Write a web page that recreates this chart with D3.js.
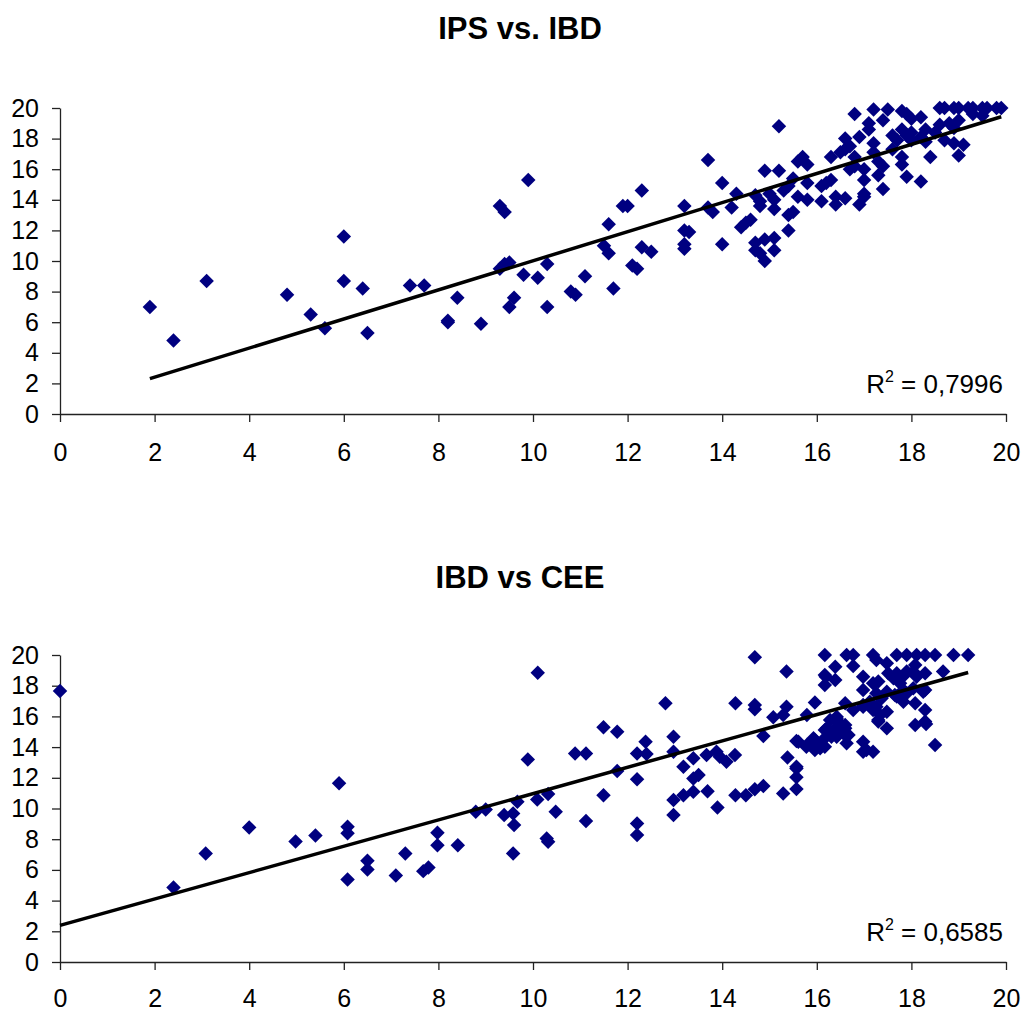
<!DOCTYPE html>
<html>
<head>
<meta charset="utf-8">
<script src="https://cdn.jsdelivr.net/npm/d3@7"></script>
<style>
  body { margin: 0; background: #fff; }
  svg { display: block; font-family: "Liberation Sans", Arial, sans-serif; }
</style>
</head>
<body>
<svg id="chart" width="1023" height="1010"></svg>
<script>
const titles = ["IPS vs. IBD", "IBD vs CEE"]
const rSquared = ["R\u00b2 = 0,7996", "R\u00b2 = 0,6585"]
const axisTicks = [0, 2, 4, 6, 8, 10, 12, 14, 16, 18, 20]

// IPS vs. IBD
const ipsX = [1.9, 2.4, 3.1, 4.8, 5.3, 5.6, 6.0, 6.0, 6.4, 6.5, 7.4, 7.7, 8.2, 8.2, 8.4, 8.9, 9.3, 9.4, 9.3, 9.4,
  9.5, 9.5, 9.6, 9.9, 9.8, 10.1, 10.3, 10.3, 10.8, 10.9, 11.1, 11.6, 11.5, 11.6, 11.7, 11.9, 12.0, 12.3, 12.1, 12.2,
  12.3, 12.5, 13.2, 13.2, 13.3, 13.2, 13.2, 13.7, 13.7, 13.8, 14.0, 14.0, 14.3, 14.2, 14.4, 14.5, 14.6, 14.7, 14.8, 14.8,
  14.9, 15.2, 15.2, 14.7, 14.7, 14.8, 14.9, 14.9, 15.1, 15.1, 15.0, 15.1, 15.1, 15.3, 15.4, 15.4, 15.4, 15.5, 15.5, 15.6,
  15.7, 15.8, 15.6, 15.8, 15.8, 16.1, 16.1, 16.2, 16.3, 16.3, 16.4, 16.4, 16.6, 16.5, 16.6, 16.6, 16.7, 16.8, 16.8, 16.7,
  17.0, 17.0, 17.0, 16.9, 17.0, 16.8, 16.9, 17.1, 17.1, 17.2, 17.5, 17.4, 17.2, 17.2, 17.3, 17.4, 17.3, 17.4, 17.6, 17.7,
  17.8, 17.8, 17.8, 17.8, 17.9, 18.0, 18.2, 17.9, 18.2, 18.0, 18.2, 18.3, 18.5, 18.4, 18.6, 18.7, 18.9, 19.0, 19.2, 19.3,
  19.5, 19.6, 19.8, 19.9, 18.6, 18.8, 18.9, 19.0, 18.7, 18.9, 19.1, 19.0, 19.3, 19.5, 18.0, 17.9, 17.6, 18.3]
const ibdY = [7.0, 4.8, 8.7, 7.8, 6.5, 5.6, 11.6, 8.7, 8.2, 5.3, 8.4, 8.4, 6.1, 6.0, 7.6, 5.9, 13.6, 13.2, 9.5, 9.8,
  9.9, 7.0, 7.6, 15.3, 9.1, 8.9, 9.8, 7.0, 8.0, 7.8, 9.0, 12.4, 11.0, 10.5, 8.2, 13.6, 13.6, 14.6, 9.7, 9.5,
  10.9, 10.6, 13.6, 12.0, 11.9, 11.1, 10.8, 16.6, 13.5, 13.2, 15.1, 11.1, 14.4, 13.5, 12.2, 12.5, 12.7, 14.3, 13.9, 13.6,
  15.9, 15.9, 18.8, 11.2, 10.7, 10.5, 11.4, 10.0, 11.5, 10.7, 14.4, 14.0, 13.4, 14.6, 14.9, 12.0, 13.0, 13.2, 15.4, 16.5,
  16.8, 16.3, 14.2, 14.0, 15.1, 13.9, 14.9, 15.1, 15.3, 16.8, 13.7, 14.2, 14.1, 17.1, 17.3, 18.0, 17.5, 16.8, 16.2, 16.0,
  16.0, 15.3, 14.2, 13.7, 14.4, 19.6, 18.1, 19.0, 18.6, 19.9, 19.9, 19.2, 17.7, 17.1, 16.5, 16.2, 15.6, 14.7, 17.3, 17.9,
  18.6, 16.8, 16.3, 19.8, 19.6, 19.3, 19.4, 15.5, 15.2, 18.4, 18.1, 18.6, 18.4, 16.8, 20, 20, 20, 20, 20, 20,
  20, 20, 20, 20, 18.9, 19.0, 18.7, 19.2, 17.9, 17.7, 17.6, 16.9, 19.6, 19.5, 17.9, 18.2, 18.2, 17.8]

// IBD vs CEE
const ibdX = [0, 2.4, 3.08, 4.0, 4.98, 5.4, 5.9, 6.08, 6.08, 6.08, 6.5, 6.5, 7.1, 7.3, 7.68, 7.79, 7.98, 7.98, 8.41, 8.79,
  9.0, 9.39, 9.58, 9.6, 9.58, 9.67, 9.89, 10.09, 10.32, 10.29, 10.32, 10.48, 10.89, 11.12, 11.12, 11.49, 11.78, 11.49, 11.78, 12.2,
  12.38, 12.4, 12.2, 12.2, 12.2, 10.1, 14.69, 15.36, 12.8, 14.28, 14.69, 14.69, 15.36, 15.29, 15.08, 15.96, 15.79, 12.97, 12.97, 12.97,
  12.97, 13.18, 13.39, 13.39, 13.5, 13.39, 13.18, 13.67, 13.88, 13.95, 14.09, 14.27, 13.69, 13.9, 14.28, 14.5, 14.69, 14.87, 15.29, 14.87,
  15.38, 15.57, 15.57, 15.57, 15.57, 15.78, 15.96, 15.96, 16.17, 16.13, 16.17, 16.28, 16.39, 16.42, 16.49, 16.6, 16.63, 16.6, 16.17, 16.17,
  16.17, 16.39, 16.39, 16.63, 16.77, 16.77, 16.77, 16.98, 16.98, 16.98, 17.19, 16.98, 16.98, 17.19, 17.26, 17.19, 17.26, 17.26, 17.3, 17.48,
  17.48, 17.37, 17.48, 17.51, 17.69, 17.9, 18.11, 18.29, 18.5, 18.89, 19.2, 18.67, 17.69, 17.9, 18.08, 18.29, 18.11, 17.76, 17.9, 18.08,
  18.29, 18.29, 18.29, 18.08, 17.69, 17.83, 18.5, 17.3, 17.62, 17.48, 17.65, 17.83, 18.04, 18.25, 17.19, 17.34, 17.3, 16.98, 17.12, 18.31,
  16.42, 16.6, 16.42, 16.67, 16.21, 16.31, 16.07, 15.93, 15.79, 15.61, 15.57, 16.56, 16.42, 17.05, 16.19, 17.86, 18.04]
const ceeY = [17.66, 4.85, 7.07, 8.77, 7.85, 8.24, 11.64, 8.81, 8.38, 5.37, 6.59, 6.03, 5.63, 7.07, 5.92, 6.16, 8.42, 7.61, 7.61, 9.79,
  9.94, 9.57, 9.68, 8.92, 7.07, 10.44, 13.2, 10.59, 10.94, 8.05, 7.83, 9.79, 13.59, 13.59, 9.18, 15.29, 15.0, 10.87, 12.44, 13.59,
  14.35, 13.55, 11.9, 9.03, 8.27, 18.85, 19.86, 18.92, 16.86, 16.86, 16.75, 16.46, 16.63, 16.09, 15.94, 16.9, 16.09, 14.68, 13.7, 10.55,
  9.57, 12.72, 13.27, 11.96, 12.18, 11.09, 10.87, 13.48, 13.7, 13.37, 13.05, 13.48, 11.13, 10.07, 10.87, 10.87, 11.25, 11.46, 10.98, 14.72,
  13.33, 12.61, 12.03, 11.27, 14.4, 14.03, 14.46, 13.81, 14.03, 14.46, 15.11, 15.77, 15.22, 14.68, 15.55, 15.22, 14.25, 16.86, 20, 18.69,
  18.04, 19.24, 18.37, 20, 20, 19.29, 16.42, 16.75, 14.35, 13.7, 13.7, 18.59, 17.72, 20, 19.68, 18.16, 17.51, 16.63, 15.77, 16.31,
  15.22, 17.18, 19.47, 18.81, 20, 20, 20, 20, 20, 20, 20, 18.92, 18.81, 18.92, 19.35, 18.81, 18.59, 18.16, 17.51, 16.86,
  17.72, 16.42, 15.66, 15.44, 17.29, 16.96, 14.14, 18.27, 18.49, 17.61, 17.4, 17.72, 17.83, 17.61, 16.42, 16.09, 15.66, 16.63, 16.96, 15.5,
  15.98, 15.44, 14.79, 14.79, 15.22, 14.68, 13.92, 14.57, 14.14, 14.35, 12.72, 14.9, 15.88, 13.81, 18.59, 18.71, 18.92]

// trend lines: [xStart, xEnd, slope, intercept]
const trendTop = [1.9, 19.9, 0.951, 0.503]
const trendBottom = [0, 19.2, 0.858, 2.39]

const panels = [
  { title: titles[0], r2: rSquared[0], xs: ipsX, ys: ibdY, trend: trendTop, top: 108, bottom: 414, titleY: 39, pad: 21 },
  { title: titles[1], r2: rSquared[1], xs: ibdX, ys: ceeY, trend: trendBottom, top: 655, bottom: 962, titleY: 588, pad: 19 }
]

const left = 60, right = 1006

const svg = d3.select("#chart")

const diamond = {
  draw(ctx, size) {
    const r = Math.sqrt(size) / 2
    ctx.moveTo(0, -r)
    ctx.lineTo(r, 0)
    ctx.lineTo(0, r)
    ctx.lineTo(-r, 0)
    ctx.closePath()
  }
}

panels.forEach(p => {
  const x = d3.scaleLinear().domain([0, 20]).range([left, right])
  const y = d3.scaleLinear().domain([0, 20]).range([p.bottom, p.top])

  const g = svg.append("g")

  g.append("text")
    .attr("x", 520)
    .attr("y", p.titleY)
    .attr("text-anchor", "middle")
    .attr("font-size", 31)
    .attr("font-weight", "bold")
    .text(p.title)

  // axes
  const yAxis = g.append("g")
    .attr("transform", `translate(${left},0)`)
    .call(d3.axisLeft(y).tickValues(axisTicks).tickSize(8).tickPadding(13).tickSizeOuter(0))
  const xAxis = g.append("g")
    .attr("transform", `translate(0,${p.bottom})`)
    .call(d3.axisBottom(x).tickValues(axisTicks).tickSize(8).tickPadding(p.pad).tickSizeOuter(0))

  ;[xAxis, yAxis].forEach(a => {
    a.selectAll("path, line").attr("stroke", "#222").attr("stroke-width", 1.3)
    a.selectAll("text").attr("font-size", 25).attr("fill", "#000")
      .attr("font-family", "'Liberation Sans', Arial, sans-serif")
  })

  // points
  const pts = p.xs.map((v, i) => [v, p.ys[i]])
  g.append("g")
    .selectAll("path")
    .data(pts)
    .join("path")
    .attr("transform", d => `translate(${x(d[0])},${y(d[1])})`)
    .attr("d", d3.symbol().type(diamond).size(210))
    .attr("fill", "#000080")

  // trend line
  const [x0, x1, slope, icpt] = p.trend
  g.append("line")
    .attr("x1", x(x0)).attr("y1", y(slope * x0 + icpt))
    .attr("x2", x(x1)).attr("y2", y(slope * x1 + icpt))
    .attr("stroke", "#000")
    .attr("stroke-width", 3.5)

  // R squared label
  const lbl = g.append("text")
    .attr("x", right - 3)
    .attr("y", p.bottom - 21)
    .attr("text-anchor", "end")
    .attr("font-size", 26)
  const parts = p.r2.split("\u00b2")
  lbl.append("tspan").text(parts[0])
  lbl.append("tspan").attr("font-size", 16).attr("dy", -11).text("2")
  lbl.append("tspan").attr("dy", 11).text(parts[1])
})
</script>
</body>
</html>
